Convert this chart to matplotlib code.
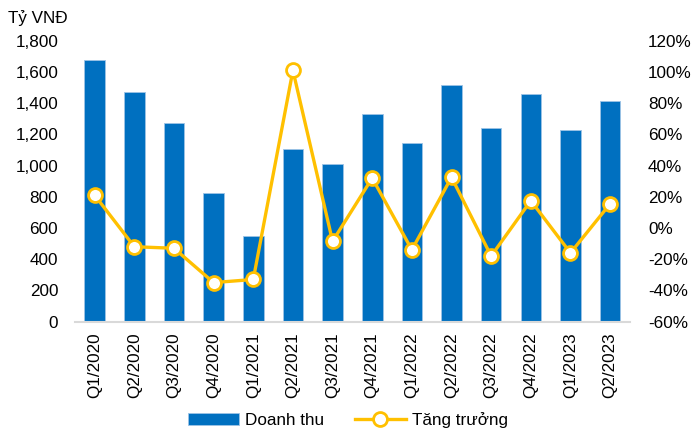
import matplotlib
matplotlib.use("Agg")
import matplotlib.pyplot as plt
import numpy as np

plt.rcParams['font.family'] = ['Liberation Sans', 'DejaVu Sans']

quarters = ['Q1/2020', 'Q2/2020', 'Q3/2020', 'Q4/2020', 'Q1/2021', 'Q2/2021', 'Q3/2021',
            'Q4/2021', 'Q1/2022', 'Q2/2022', 'Q3/2022', 'Q4/2022', 'Q1/2023', 'Q2/2023']
doanh_thu = [1675, 1471, 1271, 824, 550, 1106, 1011, 1333, 1145, 1514, 1243, 1460, 1228, 1415]
tang_truong = [21, -12, -13, -35, -33, 101, -8.5, 32, -14, 32.5, -18, 17.5, -16, 15.5]

blue = '#0070C0'
gold = '#FFC000'

fig = plt.figure(figsize=(6.93, 4.34), dpi=100)
ax = fig.add_axes([0.108, 0.259, 0.801, 0.647])
x = np.arange(len(quarters))
ax.bar(x, doanh_thu, width=0.52, color=blue, edgecolor='#9DC3E6', linewidth=0.6,
       label='Doanh thu', zorder=2)
ax.set_ylim(0, 1800)
ax.set_yticks(range(0, 1801, 200))
ax.set_yticklabels([f'{v:,}' for v in range(0, 1801, 200)], fontsize=12.3)
ax.set_xlim(-0.5, len(quarters) - 0.5)
ax.set_xticks(x)
ax.set_xticklabels(quarters, rotation=90, fontsize=12.3)
ax.tick_params(axis='y', length=0, pad=12)
ax.tick_params(axis='x', length=0, pad=8)
for s in ['top', 'right', 'left']:
    ax.spines[s].set_visible(False)
ax.spines['bottom'].set_color('#D9D9D9')
ax.spines['bottom'].set_linewidth(1.5)

ax2 = ax.twinx()
ax2.plot(x, tang_truong, color=gold, linewidth=2.4, marker='o', markersize=10,
         markerfacecolor='white', markeredgecolor=gold, markeredgewidth=2,
         label='Tăng trưởng', zorder=3)
ax2.set_ylim(-60, 120)
ax2.set_yticks(range(-60, 121, 20))
ax2.set_yticklabels([f'{v}%' for v in range(-60, 121, 20)], fontsize=12.3)
ax2.tick_params(length=0, pad=13)
for s in ['top', 'right', 'left', 'bottom']:
    ax2.spines[s].set_visible(False)

fig.text(0.012, 0.958, 'Tỷ VNĐ', fontsize=12.3, va='center', ha='left')

h1, l1 = ax.get_legend_handles_labels()
h2, l2 = ax2.get_legend_handles_labels()
fig.legend(h1 + h2, l1 + l2, loc='center', bbox_to_anchor=(0.502, 0.032), ncol=2,
           frameon=False, fontsize=12.3, handlelength=3.0, columnspacing=1.8,
           handletextpad=0.35)

fig.savefig('out.png', dpi=100)
